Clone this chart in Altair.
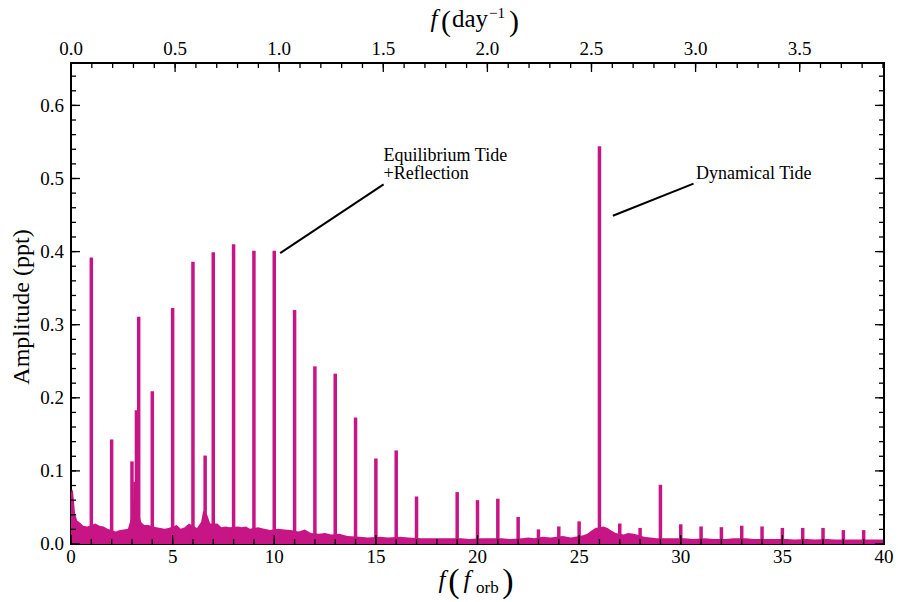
import altair as alt
import pandas as pd

# ---------------- data ----------------
# harmonic / pulsation peaks: frequency in units of f_orb, amplitude in ppt
peak_freq = [1, 2, 3.0, 3.15, 3.22, 3.33, 4, 5, 6, 6.6, 7, 8, 9, 10, 11, 12, 13, 14, 15, 16, 17,
             19, 20, 21, 22, 23, 24, 25, 26, 27, 28, 29, 30, 31, 32, 33, 34, 35, 36, 37, 38, 39]
peak_amp = [0.392, 0.143, 0.113, 0.085, 0.183, 0.311, 0.209, 0.323, 0.386, 0.121, 0.399, 0.410,
            0.401, 0.401, 0.320, 0.243, 0.233, 0.173, 0.117, 0.128, 0.065,
            0.071, 0.060, 0.062, 0.037, 0.020, 0.024, 0.031, 0.544, 0.028, 0.022, 0.081, 0.027,
            0.024, 0.023, 0.025, 0.024, 0.022, 0.022, 0.022, 0.019, 0.019]

# noise floor of the periodogram
noise_freq = [0, 0.05, 0.1, 0.2, 0.3, 0.45, 0.6, 0.8, 1.2, 1.4, 1.6, 1.8, 2.2, 2.4, 2.6, 2.8,
              2.95, 3.1, 3.2, 3.45, 3.6, 3.8, 4.2, 4.4, 4.6, 4.8, 5.2, 5.4, 5.6, 5.8, 6.2, 6.4,
              6.5, 6.7, 6.85, 7.2, 7.4, 7.6, 7.8, 8.2, 8.4, 8.6, 8.8, 9.2, 9.5, 9.8, 10.2, 10.5,
              10.8, 11.2, 11.5, 11.8, 12.2, 12.5, 12.8, 13.2, 13.6, 14.2, 14.6, 15.2, 15.6, 16.2,
              16.6, 17.2, 17.6, 18.0, 18.5, 19.2, 19.6, 20.2, 20.6, 21.2, 21.6, 22.2, 22.5, 22.8,
              23.2, 23.6, 24.2, 24.6, 25.2, 25.4, 25.6, 25.8, 26.2, 26.4, 26.6, 26.8, 27.2, 27.4,
              27.7, 28.2, 28.5, 28.8, 29.2, 29.6, 30.2, 30.6, 31.2, 31.6, 32.2, 32.6, 33.2, 33.6,
              34.2, 34.6, 35.2, 35.6, 36.2, 36.6, 37.2, 37.6, 38.2, 38.6, 39.2, 39.6, 40]
noise_amp = [0.070, 0.075, 0.072, 0.042, 0.032, 0.029, 0.025, 0.024, 0.028, 0.025, 0.024, 0.021,
             0.017, 0.019, 0.020, 0.021, 0.035, 0.068, 0.060, 0.030, 0.026, 0.026, 0.023, 0.022,
             0.021, 0.022, 0.026, 0.021, 0.023, 0.028, 0.022, 0.030, 0.045, 0.040, 0.028, 0.028,
             0.023, 0.024, 0.023, 0.024, 0.023, 0.024, 0.021, 0.023, 0.021, 0.019, 0.021, 0.020,
             0.019, 0.017, 0.020, 0.015, 0.014, 0.015, 0.013, 0.014, 0.011, 0.010, 0.009, 0.010,
             0.009, 0.010, 0.009, 0.008, 0.008, 0.008, 0.008, 0.008, 0.007, 0.008, 0.008, 0.008,
             0.007, 0.008, 0.009, 0.008, 0.010, 0.009, 0.011, 0.009, 0.012, 0.014, 0.018, 0.022,
             0.024, 0.022, 0.018, 0.015, 0.013, 0.015, 0.014, 0.010, 0.009, 0.008, 0.008, 0.008,
             0.008, 0.007, 0.008, 0.007, 0.007, 0.008, 0.008, 0.007, 0.007, 0.007, 0.007, 0.006,
             0.007, 0.006, 0.007, 0.006, 0.006, 0.006, 0.006, 0.006, 0.006]

# tick labels
x_labels = [0, 5, 10, 15, 20, 25, 30, 35, 40]
y_labels = [0.0, 0.1, 0.2, 0.3, 0.4, 0.5, 0.6]
day_labels = [0.0, 0.5, 1.0, 1.5, 2.0, 2.5, 3.0, 3.5]

# annotations
ann_text = ["Equilibrium Tide", "+Reflection", "Dynamical Tide"]
ann_x = [15.38, 15.38, 30.75]
ann_y = [0.524, 0.499, 0.4996]
ann_line_x = [10.29, 26.66]
ann_line_x2 = [15.38, 30.63]
ann_line_y = [0.398, 0.449]
ann_line_y2 = [0.492, 0.493]

# ---------------- styling ----------------
F_MAX = 40
DAY_MAX = 3.905
Y_MAX = 0.658
W, H = 813, 481
MAG = "#C71585"
FONT = "Liberation Serif"
LBL = 19

x_scale = alt.Scale(domain=[0, F_MAX], nice=False, zero=False)
y_scale = alt.Scale(domain=[0, Y_MAX], nice=False, zero=False)
d_scale = alt.Scale(domain=[0, DAY_MAX], nice=False, zero=False)

peaks_df = pd.DataFrame({"f": peak_freq, "a": peak_amp})
noise_df = pd.DataFrame({"f": noise_freq, "a": noise_amp})

area = alt.Chart(noise_df).mark_area(color=MAG, opacity=1).encode(
    x=alt.X("f:Q", scale=x_scale, axis=None),
    y=alt.Y("a:Q", scale=y_scale, axis=None),
)
peaks = alt.Chart(peaks_df).transform_calculate(zero="0").mark_rule(
    color=MAG, strokeWidth=3.5).encode(
    x=alt.X("f:Q", scale=x_scale, axis=None),
    y=alt.Y("zero:Q", scale=y_scale, axis=None),
    y2="a:Q",
)

# inward ticks on all four sides
def vticks(vals, y0, y1):
    return alt.Chart(pd.DataFrame({"v": vals})).mark_rule(color="black", strokeWidth=1.3).encode(
        x=alt.X("v:Q", scale=x_scale, axis=None), y=alt.value(y0), y2=alt.value(y1))

def hticks(vals, x0, x1):
    return alt.Chart(pd.DataFrame({"v": vals})).mark_rule(color="black", strokeWidth=1.3).encode(
        y=alt.Y("v:Q", scale=y_scale, axis=None), x=alt.value(x0), x2=alt.value(x1))

x_minor = list(range(0, 41))
y_minor = [round(i * 0.02, 2) for i in range(33)]
ticks = [
    vticks(x_labels, H, H - 9), vticks(x_minor, H, H - 5),
    hticks(y_labels, 0, 9), hticks(y_minor, 0, 5),
    hticks(y_labels, W, W - 9), hticks(y_minor, W, W - 5),
]

# tick labels
xlab = alt.Chart(pd.DataFrame({"v": x_labels})).mark_text(
    font=FONT, fontSize=LBL, align="center", baseline="alphabetic", color="black").encode(
    x=alt.X("v:Q", scale=x_scale, axis=None), y=alt.value(H + 19), text=alt.Text("v:Q", format="d"))
ylab = alt.Chart(pd.DataFrame({"v": y_labels})).mark_text(
    font=FONT, fontSize=LBL, align="right", baseline="alphabetic", dy=6.3, color="black").encode(
    y=alt.Y("v:Q", scale=y_scale, axis=None), x=alt.value(-7), text=alt.Text("v:Q", format=".1f"))

# annotations
ann_df = pd.DataFrame({"t": ann_text, "x": ann_x, "y": ann_y})
ann = alt.Chart(ann_df).mark_text(font=FONT, fontSize=18, align="left", baseline="alphabetic",
                                  color="black").encode(
    x=alt.X("x:Q", scale=x_scale, axis=None), y=alt.Y("y:Q", scale=y_scale, axis=None), text="t:N")
line_df = pd.DataFrame({"x": ann_line_x, "x2": ann_line_x2, "y": ann_line_y, "y2": ann_line_y2})
ann_lines = alt.Chart(line_df).mark_rule(color="black", strokeWidth=2).encode(
    x=alt.X("x:Q", scale=x_scale, axis=None), x2="x2:Q",
    y=alt.Y("y:Q", scale=y_scale, axis=None), y2="y2:Q")

# axis titles with italics / sub- and superscripts
def label(txt, x, y, size, italic=False, align="center", angle=0):
    kw = dict(font=FONT, fontSize=size, align=align, baseline="alphabetic", color="black")
    if italic:
        kw["fontStyle"] = "italic"
    if angle:
        kw["angle"] = angle
    return alt.Chart(pd.DataFrame({"t": [txt]})).mark_text(**kw).encode(
        text="t:N", x=alt.value(x), y=alt.value(y))

titles = [
    # left: Amplitude (ppt)
    label("Amplitude (ppt)", -42, 244, 24, angle=270),
    # bottom: f (f_orb)
    label("f", 371, 525, 25, italic=True),
    label("(", 383, 529, 34),
    label("f", 396, 525, 25, italic=True),
    label("orb", 405, 530, 17, align="left"),
    label(")", 437, 529, 34),
    # top: f (day^-1)
    label("f", 363, -36, 25, italic=True),
    label("(", 375, -32, 30),
    label("day", 381, -36, 25, align="left"),
    label("\u22121", 418, -45, 15, align="left"),
    label(")", 443, -32, 30),
]

main = alt.layer(area, peaks, *ticks, xlab, ylab, ann_lines, ann, *titles)

# top axis in day^-1 (own x scale)
top_major = alt.Chart(pd.DataFrame({"d": day_labels})).mark_rule(color="black", strokeWidth=1.3).encode(
    x=alt.X("d:Q", scale=d_scale, axis=None), y=alt.value(0), y2=alt.value(9))
top_minor = alt.Chart(pd.DataFrame({"d": [round(i * 0.1, 1) for i in range(40)]})).mark_rule(
    color="black", strokeWidth=1.3).encode(
    x=alt.X("d:Q", scale=d_scale, axis=None), y=alt.value(0), y2=alt.value(5))
top_lab = alt.Chart(pd.DataFrame({"d": day_labels})).mark_text(
    font=FONT, fontSize=LBL, align="center", baseline="alphabetic", color="black").encode(
    x=alt.X("d:Q", scale=d_scale, axis=None), y=alt.value(-8), text=alt.Text("d:Q", format=".1f"))
top = alt.layer(top_major, top_minor, top_lab)

chart = alt.layer(main, top).resolve_scale(x="independent").properties(
    width=W, height=H,
    autosize=alt.AutoSizeParams(type="none"),
    padding={"left": 71, "top": 63, "right": 14, "bottom": 58},
    background="white",
).configure_view(stroke="black", strokeWidth=2)

chart.save("out.html", embed_options={"renderer": "svg", "actions": False})
